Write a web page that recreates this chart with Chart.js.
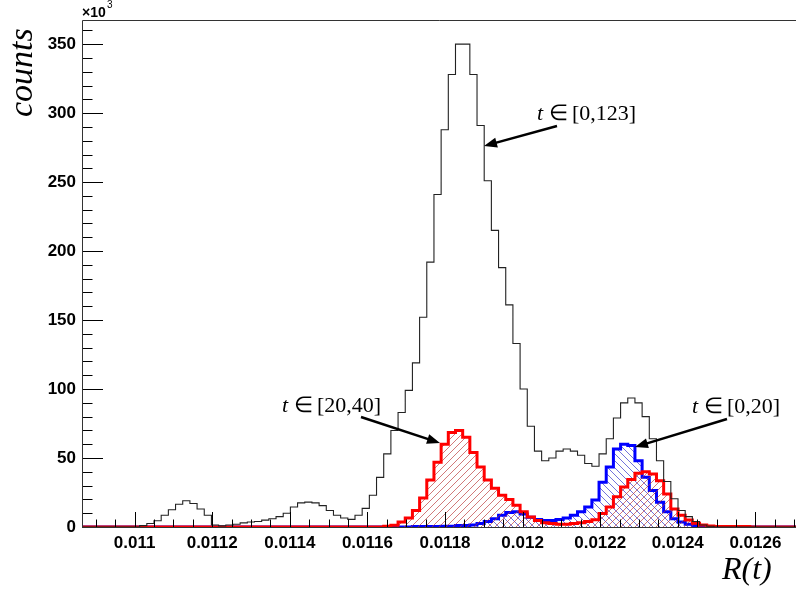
<!DOCTYPE html>
<html>
<head>
<meta charset="utf-8">
<script src="https://cdn.jsdelivr.net/npm/chart.js@4.4.0/dist/chart.umd.min.js"></script>
<style>
  html, body { margin: 0; padding: 0; background: #fff; }
  canvas { display: block; }
</style>
</head>
<body>
<canvas id="rChart" width="796" height="592"></canvas>
<script>
// 100 bins, lower edge of bin 0 and width of one bin
const binLow = 0.010865;
const binWidth = 0.0000185;

// visible axis range
const xMin = 0.0108644;
const xMax = 0.0127046;
const yMax = 367.5;

// bin contents in units of 10^3
const countsAll = [
  0, 0, 0, 0, 0, 0, 0, 0, 1, 2.5,
  4.5, 8.5, 12.5, 16.5, 19, 17, 13, 8.5, 1.5, 0.8,
  1.5, 2, 3, 3.6, 4, 5, 6, 7.5, 10, 14.5,
  17.5, 18, 17.5, 15.5, 12, 8.5, 6.5, 5.5, 8.5, 13.5,
  23, 36, 53, 70, 83, 99, 119, 152, 192, 241,
  288, 328, 350, 350, 328, 291, 251, 215, 188, 161,
  133, 100, 73, 55, 48, 50, 55, 56.5, 55, 52,
  46, 44, 53, 64, 79, 90, 93.5, 90, 80, 64,
  48, 33, 20.5, 12, 7.5, 4, 1.5, 0.5, 0, 0,
  0, 0, 0, 0, 0, 0, 0, 0, 0, 0
];
const counts20to40 = [
  0, 0, 0, 0, 0, 0, 0, 0, 0, 0,
  0, 0, 0, 0, 0, 0, 0, 0, 0, 0,
  0, 0, 0, 0, 0, 0, 0, 0, 0, 0,
  0, 0, 0, 0, 0, 0, 0, 0, 0, 0,
  0, 0, 0.5, 1.2, 3.6, 6.5, 12, 21, 34, 47,
  60, 68.5, 70, 65, 54, 43.5, 34, 28, 23, 20,
  15.7, 11, 7.2, 4.8, 3, 2.5, 2, 2, 2.5, 3,
  4, 5.3, 9.7, 14.5, 22, 29, 34.5, 39, 40, 38.5,
  33.5, 24, 13, 8.5, 5, 2.8, 1.5, 0.8, 0.3, 0.3,
  0.3, 0.3, 0.3, 0, 0, 0, 0, 0, 0, 0
];
const counts0to20 = [
  0, 0, 0, 0, 0, 0, 0, 0, 0, 0,
  0, 0, 0, 0, 0, 0, 0, 0, 0, 0,
  0, 0, 0, 0, 0, 0, 0, 0, 0, 0,
  0, 0, 0, 0, 0, 0, 0, 0, 0, 0,
  0, 0, 0, 0, 0, 0, 0.3, 0.3, 0.3, 0.3,
  0.5, 0.5, 1, 1, 1.5, 2.5, 4, 6, 8.5, 10.5,
  11, 9.5, 7, 5.5, 4.8, 4.8, 5.5, 6.5, 8.5, 11,
  14.5, 19.5, 32.5, 43.5, 56.5, 60, 59, 48, 36, 26.5,
  18, 11, 6, 3.6, 2, 1, 0.5, 0, 0, 0,
  0, 0, 0, 0, 0, 0, 0, 0, 0, 0
];

const seriesLabels = ['[0,123]', '[20,40]', '[0,20]'];

// histogram -> step outline, one point per lower bin edge
function toSteps(counts) {
  const pts = counts.map((c, i) => ({ x: binLow + i * binWidth, y: c }));
  pts.push({ x: binLow + counts.length * binWidth, y: 0 });
  return pts;
}

const canvas = document.getElementById('rChart');
const ctx = canvas.getContext('2d');

// ROOT-like hatch fills: dir 1 is '/', dir -1 is '\'
function hatch(color, dir) {
  const s = 7;
  const c = document.createElement('canvas');
  c.width = s; c.height = s;
  const g = c.getContext('2d');
  g.strokeStyle = color;
  g.lineWidth = 1;
  g.beginPath();
  if (dir > 0) {
    g.moveTo(0, s); g.lineTo(s, 0);
    g.moveTo(-1, 1); g.lineTo(1, -1);
    g.moveTo(s - 1, s + 1); g.lineTo(s + 1, s - 1);
  } else {
    g.moveTo(0, 0); g.lineTo(s, s);
    g.moveTo(-1, s - 1); g.lineTo(1, s + 1);
    g.moveTo(s - 1, -1); g.lineTo(s + 1, 1);
  }
  g.stroke();
  return ctx.createPattern(c, 'repeat');
}

function arrow(c, x1, y1, x2, y2) {
  const a = Math.atan2(y2 - y1, x2 - x1);
  const len = 13, half = 5;
  const bx = x2 - len * Math.cos(a), by = y2 - len * Math.sin(a);
  c.strokeStyle = '#000';
  c.fillStyle = '#000';
  c.lineWidth = 2.5;
  c.beginPath();
  c.moveTo(x1, y1);
  c.lineTo(bx + 3 * Math.cos(a), by + 3 * Math.sin(a));
  c.stroke();
  c.beginPath();
  c.moveTo(x2, y2);
  c.lineTo(bx - half * Math.sin(a), by + half * Math.cos(a));
  c.lineTo(bx + half * Math.sin(a), by - half * Math.cos(a));
  c.closePath();
  c.fill();
}

function rangeLabel(c, text, x, y) {
  c.fillStyle = '#000';
  c.textAlign = 'left';
  c.textBaseline = 'alphabetic';
  c.font = 'italic 22px "Liberation Serif"';
  c.fillText('t', x, y);
  c.font = '22px "Liberation Serif"';
  c.fillText('\u2208', x + 12, y);
  c.fillText(text, x + 35, y);
}

// frame, inward ticks and the text around the pad
const rootFrame = {
  id: 'rootFrame',
  afterDatasetsDraw(chart) {
    const c = chart.ctx;
    const xs = chart.scales.x, ys = chart.scales.y;
    const a = chart.chartArea;
    c.save();
    c.strokeStyle = '#000';
    c.lineWidth = 1;
    c.beginPath();
    for (let v = 0.01085; v < xMax; v += 0.00005) {
      const px = Math.round(xs.getPixelForValue(v)) + 0.5;
      if (px < a.left) continue;
      const major = Math.abs(v / 0.0002 - Math.round(v / 0.0002)) < 1e-6;
      c.moveTo(px, a.bottom);
      c.lineTo(px, a.bottom - (major ? 15 : 7.5));
    }
    for (let v = 0; v <= yMax; v += 10) {
      const py = Math.round(ys.getPixelForValue(v)) + 0.5;
      c.moveTo(a.left, py);
      c.lineTo(a.left + (v % 50 === 0 ? 21 : 10.5), py);
    }
    c.stroke();
    c.strokeStyle = '#333';
    c.beginPath();
    c.moveTo(a.left + 0.5, a.bottom);
    c.lineTo(a.left + 0.5, a.top + 0.5);
    c.lineTo(a.right, a.top + 0.5);
    c.stroke();
    c.beginPath();
    c.moveTo(a.left, a.bottom + 0.5);
    c.lineTo(a.right, a.bottom + 0.5);
    c.stroke();

    // exponent of the y axis
    c.fillStyle = '#000';
    c.textAlign = 'left';
    c.textBaseline = 'alphabetic';
    c.font = 'bold 14px "Liberation Sans"';
    c.fillText('\u00d710', 82, 17);
    c.font = '10px "Liberation Sans"';
    c.fillText('3', 107, 8);

    // axis titles
    c.font = 'italic 34px "Liberation Serif"';
    c.save();
    c.translate(32, 117);
    c.rotate(-Math.PI / 2);
    c.fillText('counts', 0, 0);
    c.restore();
    c.font = 'italic 32px "Liberation Serif"';
    c.fillText('R(t)', 722, 579);

    // labels of the three time windows
    rangeLabel(c, seriesLabels[0], 537, 120);
    arrow(c, 557, 126, 484, 146);
    rangeLabel(c, seriesLabels[1], 282, 412);
    arrow(c, 361, 417, 440, 443);
    rangeLabel(c, seriesLabels[2], 692, 413);
    arrow(c, 727, 419, 635, 447);
    c.restore();
  }
};

new Chart(ctx, {
  type: 'line',
  data: {
    datasets: [
      {
        label: 't in ' + seriesLabels[0],
        data: toSteps(countsAll),
        borderColor: '#222',
        borderWidth: 1.1,
        stepped: true,
        fill: false,
        pointRadius: 0
      },
      {
        label: 't in ' + seriesLabels[1],
        data: toSteps(counts20to40),
        borderColor: '#ff0000',
        borderWidth: 3,
        backgroundColor: hatch('rgba(185, 50, 50, 0.65)', 1),
        stepped: true,
        fill: 'origin',
        pointRadius: 0
      },
      {
        label: 't in ' + seriesLabels[2],
        data: toSteps(counts0to20),
        borderColor: '#0000ff',
        borderWidth: 3,
        backgroundColor: hatch('rgba(40, 40, 200, 0.65)', -1),
        stepped: true,
        fill: 'origin',
        pointRadius: 0
      }
    ]
  },
  options: {
    responsive: false,
    animation: false,
    devicePixelRatio: 1,
    layout: { padding: { top: 20, right: 0, bottom: 0, left: 0 } },
    plugins: {
      legend: { display: false },
      tooltip: { enabled: false }
    },
    scales: {
      x: {
        type: 'linear',
        min: xMin,
        max: xMax,
        afterFit: s => { s.height = 65; },
        grid: { display: false, drawTicks: false },
        border: { display: false },
        ticks: {
          stepSize: 0.0002,
          includeBounds: false,
          autoSkip: false,
          maxRotation: 0,
          padding: 6,
          color: '#000',
          font: { family: 'Liberation Sans', weight: 'bold', size: 17 },
          callback: v => String(+v.toFixed(5))
        }
      },
      y: {
        min: 0,
        max: yMax,
        afterFit: s => { s.width = 82; },
        grid: { display: false, drawTicks: false },
        border: { display: false },
        ticks: {
          stepSize: 50,
          includeBounds: false,
          padding: 6,
          color: '#000',
          font: { family: 'Liberation Sans', weight: 'bold', size: 17 }
        }
      }
    }
  },
  plugins: [rootFrame]
});
</script>
</body>
</html>
